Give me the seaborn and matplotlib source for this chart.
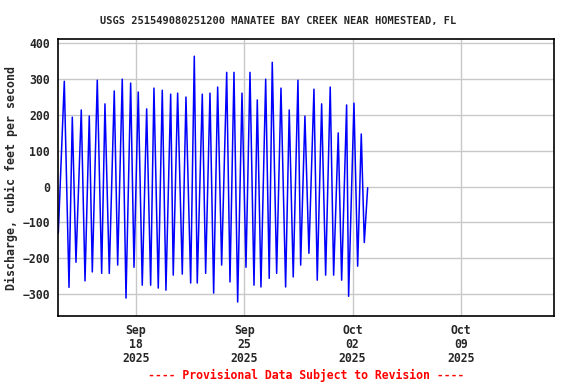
import matplotlib
matplotlib.use("Agg")
import matplotlib.pyplot as plt
import matplotlib.dates as mdates
import seaborn as sns
import pandas as pd

# Tidal discharge, peaks and troughs
times = [
    "2025-09-13 00:00", "2025-09-13 09:18", "2025-09-13 16:36", "2025-09-13 21:42",
    "2025-09-14 03:24", "2025-09-14 11:36", "2025-09-14 17:24", "2025-09-15 00:00",
    "2025-09-15 04:42", "2025-09-15 12:24", "2025-09-15 19:12", "2025-09-16 00:18",
    "2025-09-16 07:00", "2025-09-16 14:42", "2025-09-16 20:00", "2025-09-17 03:06",
    "2025-09-17 08:54", "2025-09-17 16:06", "2025-09-17 21:18", "2025-09-18 03:54",
    "2025-09-18 10:06", "2025-09-18 16:54", "2025-09-18 23:06", "2025-09-19 04:12",
    "2025-09-19 10:54", "2025-09-19 17:06", "2025-09-19 22:48", "2025-09-20 06:06",
    "2025-09-20 10:06", "2025-09-20 16:54", "2025-09-21 00:06", "2025-09-21 05:48",
    "2025-09-21 13:06", "2025-09-21 18:42", "2025-09-21 23:18", "2025-09-22 07:06",
    "2025-09-22 12:18", "2025-09-22 19:00", "2025-09-23 00:42", "2025-09-23 06:54",
    "2025-09-23 13:06", "2025-09-23 20:54", "2025-09-24 02:00", "2025-09-24 08:12",
    "2025-09-24 13:54", "2025-09-24 20:36", "2025-09-25 02:48", "2025-09-25 09:00",
    "2025-09-25 15:12", "2025-09-25 20:18", "2025-09-26 02:00", "2025-09-26 09:18",
    "2025-09-26 14:48", "2025-09-26 19:30", "2025-09-27 02:18", "2025-09-27 09:00",
    "2025-09-27 16:12", "2025-09-27 21:48", "2025-09-28 04:00", "2025-09-28 11:18",
    "2025-09-28 15:30", "2025-09-28 22:06", "2025-09-29 04:18", "2025-09-29 12:06",
    "2025-09-29 17:12", "2025-09-30 00:00", "2025-09-30 06:12", "2025-09-30 13:18",
    "2025-09-30 18:36", "2025-10-01 01:42", "2025-10-01 07:00", "2025-10-01 14:42",
    "2025-10-01 17:48", "2025-10-02 02:06", "2025-10-02 07:48", "2025-10-02 13:24",
    "2025-10-02 18:06", "2025-10-02 23:18",
]
discharge = [
    -130, 294, -281, 194, -211, 214, -263, 197, -238, 297, -242, 231,
    -242, 267, -219, 300, -311, 289, -225, 264, -275, 217, -275, 275,
    -283, 269, -289, 258, -247, 261, -244, 250, -269, 364, -269, 258,
    -242, 261, -297, 278, -219, 319, -266, 319, -322, 261, -225, 319,
    -275, 242, -280, 300, -256, 347, -242, 275, -280, 214, -252, 297,
    -219, 197, -186, 272, -261, 231, -247, 278, -247, 150, -261, 228,
    -306, 233, -222, 147, -156, -3,
]
y_ticks = [-300, -200, -100, 0, 100, 200, 300, 400]

df = pd.DataFrame({"time": pd.to_datetime(times), "discharge": discharge})

sns.set_style("white")
plt.rcParams["font.family"] = ["DejaVu Sans Mono"]
plt.rcParams["font.weight"] = "bold"

fig = plt.figure(figsize=(5.76, 3.84), dpi=100)
ax = fig.add_axes([0.1012, 0.1771, 0.8606, 0.7213])

sns.lineplot(data=df, x="time", y="discharge", ax=ax, color="#0000ff",
             linewidth=1.1, estimator=None)

ax.set_xlim(pd.Timestamp("2025-09-13"), pd.Timestamp("2025-10-15"))
ax.set_ylim(-361, 412)
ax.set_yticks(y_ticks)
ax.xaxis.set_major_locator(mdates.WeekdayLocator(byweekday=mdates.TH))
ax.xaxis.set_major_formatter(mdates.DateFormatter("%b\n%d\n%Y"))

ax.grid(True, color="#c8c8c8", linewidth=1.0)
ax.set_axisbelow(True)
for s in ax.spines.values():
    s.set_color("black")
    s.set_linewidth(1.2)
ax.tick_params(axis="both", length=3, width=0.8, color="black", labelsize=8.3,
               direction="out", pad=3)
for lab in ax.get_xticklabels() + ax.get_yticklabels():
    lab.set_fontweight("bold")
    lab.set_linespacing(1.1)

ax.set_xlabel("")
ax.set_ylabel("Discharge, cubic feet per second", fontsize=8.4,
              fontweight="bold", labelpad=3)

fig.text(0.482, 0.946, "USGS 251549080251200 MANATEE BAY CREEK NEAR HOMESTEAD, FL",
         ha="center", va="center", fontsize=7.5, fontweight="bold")
fig.text(0.531, 0.023, "---- Provisional Data Subject to Revision ----",
         ha="center", va="center", fontsize=8.3, fontweight="bold", color="red")

fig.savefig("out.png", dpi=100)
